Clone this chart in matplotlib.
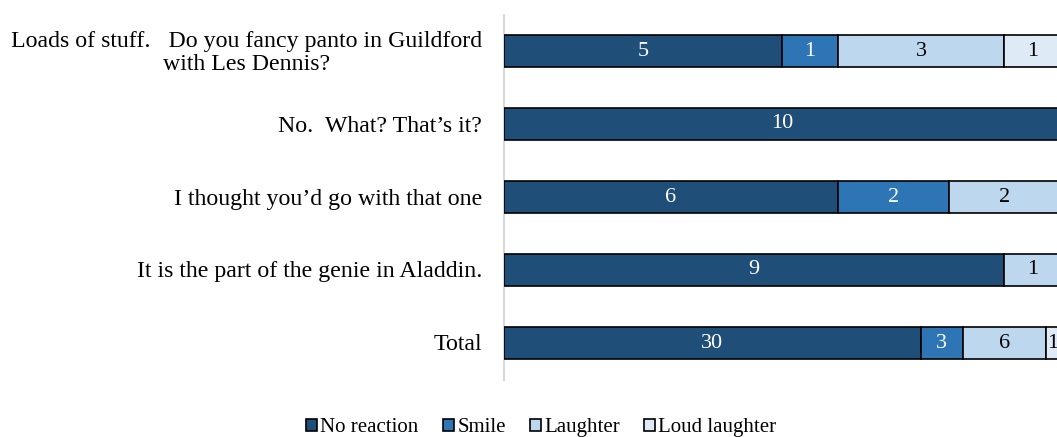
import matplotlib
matplotlib.use("Agg")
import matplotlib.pyplot as plt
import matplotlib.transforms as mtransforms
from matplotlib.patches import Patch
import numpy as np

categories = [
    "Loads of stuff.   Do you fancy panto in Guildford\nwith Les Dennis?",
    "No.  What? That\u2019s it?",
    "I thought you\u2019d go with that one",
    "It is the part of the genie in Aladdin.",
    "Total",
]
series_names = ["No reaction", "Smile", "Laughter", "Loud laughter"]
no_reaction = [5, 10, 6, 9, 30]
smile = [1, 0, 2, 0, 3]
laughter = [3, 0, 2, 1, 6]
loud_laughter = [1, 0, 0, 0, 1]

colors = ["#1F4E79", "#2E75B6", "#BDD7EE", "#DEEBF7"]
text_colors = ["white", "white", "black", "black"]

plt.rcParams["font.family"] = ["Liberation Serif", "DejaVu Serif"]

fig = plt.figure(figsize=(10.57, 4.37), dpi=100)
ax = fig.add_axes([504 / 1057, (437 - 379.5) / 437, 556 / 1057, 365 / 437])

data = np.array([no_reaction, smile, laughter, loud_laughter], dtype=float)
totals = data.sum(axis=0)
shares = data / totals
y = np.arange(len(categories))
left = np.zeros(len(categories))
for i in range(len(series_names)):
    ax.barh(y, shares[i], left=left, height=0.43, color=colors[i],
            edgecolor="black", linewidth=1.2, label=series_names[i], zorder=3)
    for j in range(len(categories)):
        if data[i, j] > 0:
            ax.text(left[j] + shares[i, j] / 2, y[j], f"{int(data[i, j])}",
                    ha="center", va="center", fontsize=16,
                    color=text_colors[i], zorder=4)
    left += shares[i]

ax.set_xlim(0, 1)
ax.set_ylim(len(categories) - 0.5, -0.5)
ax.set_yticks(y)
ax.set_yticklabels([])
ax.tick_params(axis="y", length=0)
ax.set_xticks([])

# category labels drawn as text (to control line spacing)
blend = mtransforms.blended_transform_factory(ax.transAxes, ax.transData)
lab_tr = mtransforms.offset_copy(blend, fig=fig, x=-22, y=-2, units="dots")
for j, cat in enumerate(categories):
    ax.text(0, y[j], cat, transform=lab_tr, ha="right", va="center",
            multialignment="center", fontsize=17.2, linespacing=1.15,
            color="#000000", clip_on=False)

for s in ["top", "right", "bottom"]:
    ax.spines[s].set_visible(False)
ax.spines["left"].set_color("#D9D9D9")
ax.spines["left"].set_linewidth(1.5)

handles = [Patch(facecolor=c, edgecolor="black", linewidth=1.2) for c in colors]
fig.legend(handles, series_names, loc="center", bbox_to_anchor=(0.512, 0.021),
           ncol=4, frameon=False, fontsize=15, handlelength=0.55, handleheight=0.55,
           handletextpad=0.15, columnspacing=1.15, borderaxespad=0, borderpad=0)

fig.savefig("out.png", dpi=100)
